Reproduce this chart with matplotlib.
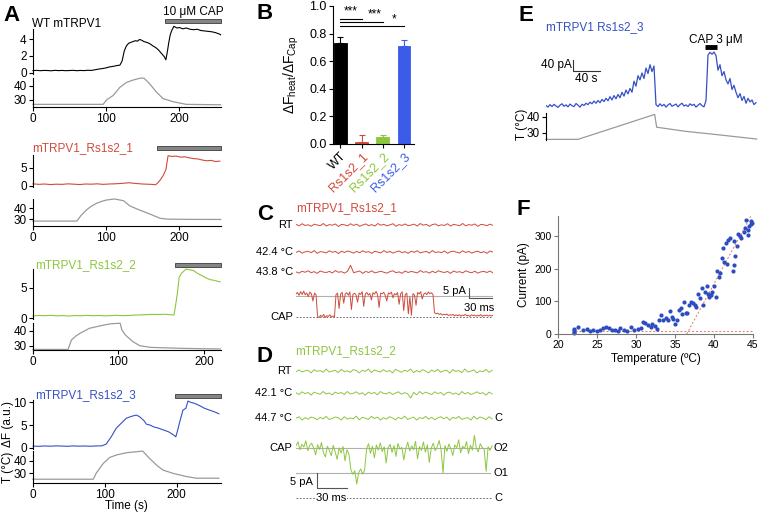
import matplotlib.pyplot as plt
import matplotlib.transforms as mtransforms
from matplotlib.patches import Rectangle
import numpy as np

plt.rcParams['font.family'] = ['Liberation Sans', 'DejaVu Sans']
plt.rcParams['mathtext.default'] = 'regular'
plt.rcParams['font.size'] = 8.5
plt.rcParams['axes.linewidth'] = 0.8
plt.rcParams['xtick.major.size'] = 3
plt.rcParams['ytick.major.size'] = 3
plt.rcParams['xtick.major.width'] = 0.8
plt.rcParams['ytick.major.width'] = 0.8
plt.rcParams['xtick.major.pad'] = 1.5
plt.rcParams['ytick.major.pad'] = 1.5

W, H = 760, 513
RED = '#d04a3c'
GREEN = '#8cc63f'
BLUE = '#3550c4'
TGRAY = '#9a9a9a'

# ---------------- data ----------------
# A: calcium imaging, dF (a.u.) and bath temperature vs time (s)
wt_t = [0, 5, 10, 15, 20, 25, 30, 35, 40, 45, 50, 55, 60, 65, 70, 75, 80, 85, 90, 95, 100, 105, 110, 115,
        119, 122, 125, 128, 131, 134, 137, 140, 143, 146, 149, 152,
        156, 160, 164, 168, 172, 176, 180,
        182, 184, 186, 188, 190, 193, 197, 201, 205, 210,
        215, 220, 225, 230, 235, 240, 245, 250, 255, 257]
wt_df = [0.28, 0.31, 0.27, 0.30, 0.29, 0.26, 0.31, 0.28, 0.30, 0.27, 0.29, 0.31, 0.27, 0.30, 0.28, 0.32,
         0.30, 0.38, 0.46, 0.52, 0.60, 0.72, 0.78, 0.88,
         0.92, 1.4, 2.6, 3.2, 3.5, 3.6, 3.7, 3.8, 3.75, 3.95, 3.85, 3.7,
         3.6, 3.45, 3.2, 3.0, 2.7, 2.3, 1.9,
         1.55, 2.5, 3.6, 4.5, 5.0, 5.5, 5.3, 5.35, 5.2, 5.3,
         5.15, 5.1, 5.15, 5.0, 4.95, 4.9, 4.85, 4.75, 4.6, 4.5]
wt_tt = [0, 96, 101, 110, 119, 128, 137, 147, 152, 160, 169, 178, 192, 210, 257]
wt_temp = [26.5, 26.5, 29.8, 33.0, 38.8, 42.3, 44.0, 45.4, 45.4, 41.2, 35.4, 30.7, 28.4, 26.5, 26.2]

rs1_t = [0, 8, 16, 24, 32, 40, 48, 56, 64, 72, 80, 88, 96, 104, 112, 120,
         126, 132, 138, 144, 150, 156, 162, 168,
         171, 174, 178, 182, 185,
         190, 196, 202, 208, 214, 220, 226, 232, 238, 244, 250, 256]
rs1_df = [0.6, 0.45, 0.55, 0.4, 0.5, 0.45, 0.6, 0.5, 0.4, 0.55, 0.5, 0.6, 0.45, 0.55, 0.6, 0.7,
          0.8, 0.9, 0.75, 0.65, 0.55, 0.5, 0.45, 0.35,
          0.9, 1.6, 2.8, 4.5, 8.4,
          8.2, 8.3, 8.0, 8.1, 7.8, 7.6, 7.5, 7.2, 7.0, 7.1, 6.8, 6.9]
rs1_tt = [0, 60, 66, 73, 80, 87, 94, 101, 112, 124, 133, 146, 160, 174, 185, 210, 257]
rs1_temp = [28.1, 28.1, 33.5, 38.4, 42.0, 44.7, 46.5, 47.8, 48.7, 47.1, 42.1, 38.4, 34.7, 30.7, 29.9, 29.7, 29.6]

rs2_t = [0, 7, 14, 21, 28, 35, 42, 49, 56, 63, 70, 77, 84, 91, 98, 105, 112, 119, 126, 133, 140, 147, 154,
         160, 165, 167, 169, 171, 174, 179, 185,
         188, 192, 196, 200, 204, 208, 212, 216, 219]
rs2_df = [0.35, 0.42, 0.38, 0.45, 0.36, 0.40, 0.33, 0.41, 0.37, 0.44, 0.38, 0.42, 0.36, 0.40, 0.45, 0.39,
          0.43, 0.48, 0.52, 0.56, 0.60, 0.58, 0.62,
          0.55, 0.50, 2.2, 4.1, 6.7, 7.4, 8.05, 7.9,
          7.8, 7.4, 7.1, 6.8, 6.5, 6.3, 6.2, 6.05, 5.95]
rs2_tt = [0, 41, 45, 50, 55, 66, 78, 90, 100, 102, 104, 108, 117, 125, 137, 175, 219]
rs2_temp = [27.5, 27.5, 33.9, 36.5, 38.4, 41.8, 43.4, 44.8, 45.2, 45.2, 40.7, 37.3, 32.7, 30.0, 28.9, 28.2, 27.8]

rs3_t = [0, 8, 16, 24, 32, 40, 48, 56, 64, 72, 80, 88, 96,
         102, 109, 116, 123, 130, 135, 139, 144, 148, 151, 155, 158, 163, 168, 175, 182, 189, 196,
         199, 201, 205, 209, 213, 216, 220, 225, 232, 239, 246, 253, 259]
rs3_df = [0.35, 0.30, 0.38, 0.33, 0.40, 0.36, 0.31, 0.39, 0.34, 0.37, 0.32, 0.38, 0.42,
          0.8, 2.4, 4.3, 5.4, 6.5, 6.8, 7.0, 7.2, 6.9, 6.5, 5.9, 5.2, 5.0, 4.6, 4.3, 3.9, 3.5, 2.8,
          2.4, 3.5, 6.0, 8.3, 8.7, 10.3, 10.0, 9.8, 9.3, 8.7, 8.3, 7.9, 7.5]
rs3_tt = [0, 84, 88, 98, 107, 116, 130, 149, 153, 160, 172, 181, 195, 214, 228, 259]
rs3_temp = [25.3, 25.3, 30.0, 37.9, 42.6, 44.5, 46.3, 47.4, 47.6, 43.2, 36.6, 32.6, 30.0, 27.4, 26.1, 26.1]

# B: heat/capsaicin response ratio
b_names = ['WT', 'Rs1s2_1', 'Rs1s2_2', 'Rs1s2_3']
b_values = [0.735, 0.018, 0.053, 0.712]
b_errors = [0.04, 0.05, 0.01, 0.04]
b_colors = ['black', RED, GREEN, '#3a5ce8']

# C: single-channel traces, mTRPV1_Rs1s2_1 (pA, 2 ms per sample for CAP)
noise_a = [0.3, -0.4, 0.6, -0.2, 0.1, -0.6, 0.4, 0.0, -0.3, 0.7, -0.5, 0.2, -0.1, 0.5, -0.7, 0.3, 0.1, -0.4,
           0.6, -0.2, 0.4, -0.6, 0.0, 0.5, -0.3, 0.2, -0.5, 0.7, -0.1, 0.3, -0.4, 0.1, 0.6, -0.6, 0.2, -0.2,
           0.5, -0.3, 0.0, 0.4, -0.5, 0.7, -0.1, 0.3, -0.6, 0.2, 0.5, -0.4, 0.1, -0.2, 0.6, -0.5, 0.3, 0.0,
           -0.3, 0.7, -0.4, 0.2, -0.1, 0.5, -0.6, 0.3, 0.1, -0.3, 0.4, -0.2]
noise_b = [-0.2, 0.5, -0.5, 0.1, 0.4, -0.3, 0.7, -0.6, 0.2, 0.0, -0.4, 0.6, -0.1, 0.3, -0.7, 0.4, -0.2, 0.5,
           0.1, -0.5, 0.3, -0.3, 0.6, -0.1, 0.2, -0.6, 0.4, 0.0, -0.4, 0.7, -0.2, 0.3, -0.5, 0.1, 0.5, -0.3,
           0.2, -0.6, 0.4, -0.1, 0.6, -0.4, 0.0, 0.3, -0.5, 0.7, -0.2, 0.1, -0.3, 0.5, -0.6, 0.2, 0.4, -0.1,
           -0.4, 0.6, -0.2, 0.3, -0.5, 0.1, 0.4, -0.3, 0.2, -0.6, 0.5, 0.0]
noise_c = [0.1, -0.5, 0.4, -0.1, 0.6, -0.3, 0.2, -0.6, 0.5, 0.0, -0.2, 0.3, -0.4, 0.7, -0.1, 0.2, -0.5, 0.4,
           3.2, -0.3, 0.1, 0.5, -0.6, 0.3, -0.2, 0.6, -0.4, 0.0, 0.4, -0.1, -0.5, 0.2, 0.6, -0.3, 0.1, -0.6,
           0.5, -0.2, 0.3, 0.0, -0.4, 0.7, -0.1, 0.2, -0.5, 0.4, -0.3, 0.6, 0.1, -0.2, 0.3, -0.6, 0.5, -0.1,
           0.2, -0.4, 0.6, 0.0, -0.3, 0.4, -0.5, 0.1, 0.3, -0.2, 0.5, -0.4]
cap_c = [10.8, 11.5, 10.2, 11.9, 10.6, 12.1, 10.4, 11.3, 9.6, 11.7, 10.9, 7.5, 11.2, 10.5,
         0.4, -0.3, 0.8, 0.1, 1.2, -0.2, 0.6, 0.3, 1.0, -0.1, 0.5, 0.2,
         10.5, 11.2, 4.0, 10.8, 11.6, 6.5, 10.9, 11.4, 10.2, 11.8, 3.5, 10.7, 11.1, 10.4, 7.0, 11.3,
         10.6, 11.9, 5.0, 10.8, 11.5, 10.3, 11.0, 8.0, 11.4, 10.7, 12.0, 10.5, 4.5, 11.2, 10.9, 11.6,
         10.1, 7.5, 11.3, 10.8, 11.7, 9.0, 11.0, 10.4, 11.5, 6.0, 10.9, 11.8, 3.0, 10.6, 11.2, 1.5,
         9.5, 0.8, 11.0, 10.3, 5.5, 11.5, 10.8, 11.9, 8.5, 10.7, 11.3, 10.5, 11.8, 10.9, 11.4, 10.6,
         2.0, 1.5, 1.8, 1.2, 1.6, 0.9, 1.3, 1.0, 1.4, 0.7, 1.1, 0.8, 1.2, 0.5, 1.0, 0.6, 1.1, 0.4,
         0.9, 0.7, 1.2, 0.5, 0.8, 0.3, 1.0, 0.6, 0.9, 0.4, 0.8, 0.5, 1.1, 0.3, 0.7, 0.6, 0.9, 0.4,
         0.8, 0.5, 0.7]

# D: single-channel traces, mTRPV1_Rs1s2_2
noise_d = [0.2, -0.4, 0.5, -0.1, 0.3, -0.6, 0.4, 0.0, -0.3, 0.6, -0.2, 0.1, -0.5, 0.4, -0.1, 0.3, -0.4, 0.6,
           -0.2, 0.0, 0.5, -0.3, 0.2, -0.6, 0.4, -0.1, 0.3, -0.5, 0.6, 0.0, -0.2, 0.4, -0.4, 0.1, 0.5, -0.3,
           0.2, -0.1, -1.6, 0.3, -0.5, 0.6, -0.2, 0.4, 0.0, -0.4, 0.5, -0.1, 0.3, -0.6, 0.2, 0.4, -0.3, 0.1,
           -0.5, 0.6, -0.2, 0.3, -0.4, 0.0, 0.5, -0.1, 0.2, -0.6, 0.4, -0.2]
cap_d = [17.5, 18.9, 16.2, 18.0, 17.1, 19.2, 15.9, 17.6, 18.4, 16.8, 14.5, 17.9, 16.3, 18.6, 15.2, 13.8,
         17.4, 16.0, 14.2, 17.7, 15.5, 13.0, 16.8, 15.1, 17.3, 12.5, 16.2, 14.8,
         9.5, 8.0, 9.2, 4.8, 8.7, 9.8, 8.1, 9.4,
         16.5, 18.2, 15.0, 17.4, 13.5, 17.8, 16.1, 18.5, 15.6, 17.2, 11.8, 16.9, 18.0, 15.3, 17.6, 14.0,
         18.3, 16.4, 17.0, 12.8, 16.6, 18.7, 15.8, 17.5, 16.2, 19.0, 13.2, 17.3, 16.0, 18.8, 15.4, 17.9,
         12.0, 16.7, 18.4, 15.9, 17.1, 19.3, 16.3, 8.5, 17.6, 15.7, 18.1, 16.5, 14.3, 17.8, 16.9, 19.5,
         15.2, 17.4, 16.6, 18.9, 14.9, 17.7, 16.1, 21.0, 16.8, 15.5, 18.2, 17.0, 16.4, 9.0, 17.2, 16.0, 17.5]

# E: whole-cell current (pA, 3 s per sample) and temperature
e_current = [2, -4, 5, -2, 6, 0, -5, 3, 8, -1, 4, -3, 7, 1, -2, 9, 3, -4, 6, 2, 10,
             5, 14, 8, 18, 10, 20, 12, 24, 16, 28, 19, 34, 22, 38, 26, 42,
             30, 50, 36, 58, 44, 64, 50,
             90, 72, 110, 95, 120, 100, 138, 118,
             150, 125, 145,
             5, -2, 8, 0, 6, -4, 4, 9, -1, 3, 7, -3, 5, 10, 0, 4, -2, 8, 2, 6, -4, 3, 9, 1, -3,
             20, 185, 195, 188, 196, 183,
             130, 150, 110, 125, 95,
             80, 100, 60, 75, 50,
             30, 45, 20, 35, 10, 28, 15, 22, 5, 12]
e_temp_t = [0, 48, 163, 166, 210, 260, 316]
e_temp = [26.0, 26.0, 41.6, 33.6, 31.0, 28.8, 26.2]

# F: current vs temperature
f_temp = [22.0, 22.0, 22.0, 22.0, 22.6, 23.2, 23.7, 24.1, 24.5, 25.0, 25.4, 25.8, 26.2, 26.5, 26.9, 27.3,
          27.7, 28.0, 28.4, 28.8, 29.4, 29.7, 30.2, 30.6, 30.9, 31.2, 31.6, 31.9, 32.1, 32.4, 32.7, 32.9,
          33.2, 33.5, 33.8, 34.1, 34.4, 34.6, 34.8, 35.0, 35.2, 35.5, 35.8, 35.9, 36.2, 36.4, 36.6, 36.8,
          37.1, 37.3, 37.5, 37.7, 37.9, 38.2, 38.4, 38.6, 38.8, 39.1, 39.2, 39.4, 39.6, 39.8, 40.0, 40.2,
          40.4, 40.6, 40.8, 41.0, 41.1, 41.3, 41.5, 41.7, 41.8, 42.1, 42.4, 42.5, 42.6, 42.7, 43.0, 43.1,
          43.3, 43.5, 43.8, 44.0, 44.1, 44.3, 44.4, 44.5, 44.7, 44.8, 44.9]
f_current = [15, 11, 7, 4, 21, 11, 14, 9, 12, 10, 13, 17, 20, 17, 12, 13,
             9, 19, 12, 9, 20, 11, 15, 17, 36, 33, 28, 22, 30, 25, 14, 43,
             58, 43, 48, 43, 70, 53, 46, 32, 44, 73, 81, 60, 99, 63,
             63, 89, 99, 94, 89, 84, 121, 111, 140, 89, 127, 147, 121, 114, 119, 129,
             147, 114, 194, 175, 188, 231, 262, 219, 277, 213, 287, 293, 193, 211, 286, 240,
             270, 305, 301, 295, 313, 325, 349, 303, 318, 329, 335, 346, 341]
fit_base_t = [22.2, 45.0]
fit_base_i = [10, 10]
fit_rise_t = [36.5, 44.7]
fit_rise_i = [0, 360]

# ---------------- figure ----------------
fig = plt.figure(figsize=(W / 100, H / 100), dpi=100)


def px_box(x0, y0, x1, y1):
    return [x0 / W, 1 - y1 / H, (x1 - x0) / W, (y1 - y0) / H]


def ftext(x, y, s, **kw):
    return fig.text(x / W, 1 - y / H, s, **kw)


for letter, (lx, ly) in zip('ABCDEF', [(3, 5), (256, 3), (257, 204), (256, 346), (518, 5), (516, 199)]):
    ftext(lx, ly, letter, fontsize=16, fontweight='bold', ha='left', va='top')

# ---- A ----
panels_a = [
    dict(title='WT mTRPV1', color='black', t=wt_t, df=wt_df, tt=wt_tt, temp=wt_temp, xmax=257.5,
         box_df=(33, 29, 221, 74), box_t=(33, 78, 221, 107), ylim_df=(-0.12, 5.18),
         ylim_t=(24.6, 45.5), ticks_df=[0, 2, 4], cap=(181, 257), cap_y=21, title_y=24),
    dict(title='mTRPV1_Rs1s2_1', color=RED, t=rs1_t, df=rs1_df, tt=rs1_tt, temp=rs1_temp, xmax=257.5,
         box_df=(33, 155, 221, 187), box_t=(33, 199, 221, 226), ylim_df=(-0.28, 8.6),
         ylim_t=(23.5, 48.7), ticks_df=[0, 5], cap=(169.5, 257), cap_y=148, title_y=148),
    dict(title='mTRPV1_Rs1s2_2', color=GREEN, t=rs2_t, df=rs2_df, tt=rs2_tt, temp=rs2_temp, xmax=220,
         box_df=(33, 269, 221, 319), box_t=(33, 323, 221, 350), ylim_df=(-0.16, 8.07),
         ylim_t=(27.1, 45.4), ticks_df=[0, 5], cap=(166, 219.5), cap_y=265, title_y=265),
    dict(title='mTRPV1_Rs1s2_3', color=BLUE, t=rs3_t, df=rs3_df, tt=rs3_tt, temp=rs3_temp, xmax=262,
         box_df=(33, 400, 221, 449), box_t=(33, 451, 221, 483), ylim_df=(-0.29, 10.53),
         ylim_t=(22.3, 47.7), ticks_df=[0, 5, 10], cap=(198, 261.8), cap_y=396, title_y=395),
]
for p in panels_a:
    ax1 = fig.add_axes(px_box(*p['box_df']))
    ax1.plot(p['t'], p['df'], color=p['color'], lw=0.8, clip_on=False)
    ax1.set_xlim(0, p['xmax'])
    ax1.set_ylim(*p['ylim_df'])
    ax1.set_yticks(p['ticks_df'])
    ax1.set_xticks([])
    for s in ['top', 'right', 'bottom']:
        ax1.spines[s].set_visible(False)
    ax1.patch.set_alpha(0)

    ax2 = fig.add_axes(px_box(*p['box_t']))
    ax2.plot(p['tt'], p['temp'], color=TGRAY, lw=0.9, clip_on=False)
    ax2.set_xlim(0, p['xmax'])
    ax2.set_ylim(*p['ylim_t'])
    ax2.set_yticks([30, 40])
    ax2.set_xticks([0, 100, 200])
    for s in ['top', 'right']:
        ax2.spines[s].set_visible(False)
    ax2.patch.set_alpha(0)

    trans = mtransforms.blended_transform_factory(ax1.transData, fig.transFigure)
    c0, c1 = p['cap']
    yb = 1 - (p['cap_y'] + 1.8) / H
    ax1.add_patch(Rectangle((c0, yb), c1 - c0, 3.6 / H, transform=trans, fc='#858585', ec='#3a3a3a',
                            lw=0.6, clip_on=False))
    ftext(32 if p['color'] in ('black', RED) else 35, p['title_y'], p['title'], color=p['color'],
          fontsize=8.5, ha='left', va='center')

ftext(193, 12, '10 μM CAP', fontsize=8.5, ha='center', va='center')
ftext(8, 424, 'ΔF (a.u.)', rotation=90, fontsize=8.5, ha='center', va='center')
ftext(8, 467, 'T (°C)', rotation=90, fontsize=8.5, ha='center', va='center')
ftext(126, 506, 'Time (s)', fontsize=8.5, ha='center', va='center')

# ---- B ----
axb = fig.add_axes(px_box(333, 6, 414, 144))
xb = np.arange(len(b_names))
axb.bar(xb, b_values, width=0.6, color=b_colors, edgecolor=b_colors, lw=0.6)
for i in range(len(b_names)):
    axb.errorbar(xb[i], b_values[i], yerr=[[0], [b_errors[i]]], fmt='none', ecolor=b_colors[i],
                 elinewidth=0.8, capsize=2.5, capthick=0.8)
axb.set_xlim(-0.35, 3.47)
axb.set_ylim(0, 1.0)
axb.set_yticks(np.arange(0, 1.01, 0.2))
axb.set_yticklabels(['%.1f' % v for v in np.arange(0, 1.01, 0.2)], fontsize=9)
axb.set_xticks(xb)
axb.set_xticklabels(b_names, rotation=45, ha='right', rotation_mode='anchor', fontsize=9)
for lab, c in zip(axb.get_xticklabels(), b_colors):
    lab.set_color(c)
for s in ['top', 'right']:
    axb.spines[s].set_visible(False)
axb.set_ylabel(r'$\Delta$F$_{heat}$/$\Delta$F$_{Cap}$', fontsize=10)
axb.yaxis.set_label_coords(-0.40, 0.5)
for (x1, yl, sx, sy, stars) in [(1, 0.905, 0.5, 0.915, '***'), (2, 0.887, 1.6, 0.893, '***'),
                                (3, 0.855, 2.55, 0.86, '*')]:
    axb.plot([0, x1], [yl, yl], color='black', lw=0.8, clip_on=False)
    axb.text(sx, sy, stars, ha='center', va='bottom', fontsize=8.5)

# ---- C ----
axc = fig.add_axes(px_box(296, 205, 493, 322))
axc.set_xlim(0, 256)
axc.set_ylim(-2.35, 52.6)
axc.axis('off')
c_levels = {'RT': 43.2, '42.4 °C': 30.5, '43.8 °C': 21.1}
for (lab, lev), nz in zip(c_levels.items(), [noise_a, noise_b, noise_c]):
    xs = np.linspace(0, 256, len(nz))
    axc.plot(xs, lev + np.array(nz), color=RED, lw=0.7)
    axc.text(-4, lev, lab, ha='right', va='center', fontsize=8)
xc = np.arange(len(cap_c)) * 2.0
axc.plot([0, 256], [10, 10], color='#b0b0b0', lw=0.8)
axc.plot([0, 256], [0, 0], color='#555555', lw=0.6, ls=(0, (2, 2)))
axc.plot(xc, cap_c, color=RED, lw=0.7)
axc.text(-4, 0, 'CAP', ha='right', va='center', fontsize=8)
axc.plot([224.7, 224.7, 254.7], [13.6, 8.7, 8.7], color='#555555', lw=0.8)
axc.text(221, 12.3, '5 pA', ha='right', va='center', fontsize=8)
axc.text(238, 4.2, '30 ms', ha='center', va='center', fontsize=8)
ftext(296, 208, 'mTRPV1_Rs1s2_1', color=RED, fontsize=8.5, ha='left', va='center')

# ---- D ----
axd = fig.add_axes(px_box(296, 345, 493, 505))
axd.set_xlim(0, 201)
axd.set_ylim(-2.2, 51.1)
axd.axis('off')
d_levels = {'RT': 42.4, '42.1 °C': 35.0, '44.7 °C': 26.7}
for (lab, lev), nz in zip(d_levels.items(), [noise_a[::-1], noise_d, noise_b[::-1]]):
    xs = np.linspace(0, 200, len(nz))
    axd.plot(xs, lev + np.array(nz), color=GREEN, lw=0.7)
    axd.text(-4, lev, lab, ha='right', va='center', fontsize=8)
axd.text(202, 26.7, 'C', ha='left', va='center', fontsize=8)
axd.plot([0, 198], [16.67, 16.67], color='#b0b0b0', lw=0.8)
axd.plot([0, 198], [8.33, 8.33], color='#b0b0b0', lw=0.8)
axd.plot([0, 200], [0, 0], color='#555555', lw=0.6, ls=(0, (2, 2)))
xd = np.arange(len(cap_d)) * 2.0
axd.plot(xd, cap_d, color=GREEN, lw=0.7)
axd.text(-4, 16.67, 'CAP', ha='right', va='center', fontsize=8)
for lab, lev in [('O2', 16.67), ('O1', 8.33), ('C', 0)]:
    axd.text(202, lev, lab, ha='left', va='center', fontsize=8)
axd.plot([21.7, 21.7, 51.7], [8.3, 3.3, 3.3], color='#555555', lw=0.8)
axd.text(17.3, 5.5, '5 pA', ha='right', va='center', fontsize=8)
axd.text(36, 0.2, '30 ms', ha='center', va='center', fontsize=8,
         bbox=dict(fc='white', ec='none', pad=0.5))
ftext(295, 351, 'mTRPV1_Rs1s2_2', color=GREEN, fontsize=8.5, ha='left', va='center')

# ---- E ----
axe = fig.add_axes(px_box(546, 30, 757, 110))
axe.set_xlim(0, 316.5)
axe.set_ylim(-14.5, 276)
axe.axis('off')
xe = np.arange(len(e_current)) * 3.0
axe.plot(xe, e_current, color=BLUE, lw=0.9)
axe.plot([40.5, 40.5, 80.5], [167, 127, 127], color='#333333', lw=0.8)
axe.text(39, 150, '40 pA', ha='right', va='center', fontsize=8.5)
axe.text(60.5, 98, '40 s', ha='center', va='center', fontsize=8.5)
axe.plot([238, 256], [215, 215], color='black', lw=3.5, solid_capstyle='butt')
axe.text(255, 238, 'CAP 3 μM', ha='center', va='center', fontsize=8.5)
ftext(546, 27, 'mTRPV1 Rs1s2_3', color=BLUE, fontsize=8.5, ha='left', va='center')

axet = fig.add_axes(px_box(546, 113, 757, 140))
axet.plot(e_temp_t, e_temp, color=TGRAY, lw=0.9, clip_on=False)
axet.set_xlim(0, 316.5)
axet.set_ylim(25.6, 42.5)
axet.set_yticks([30, 40])
axet.set_xticks([])
for s in ['top', 'right', 'bottom']:
    axet.spines[s].set_visible(False)
axet.patch.set_alpha(0)
ftext(522, 124, 'T (°C)', rotation=90, fontsize=8.5, ha='center', va='center')

# ---- F ----
axf = fig.add_axes(px_box(558, 216, 753, 334))
axf.plot(fit_base_t, fit_base_i, color='#e07565', lw=0.7, ls=(0, (2, 2)))
axf.plot(fit_rise_t, fit_rise_i, color='#e07565', lw=0.7, ls=(0, (2, 2)), clip_on=False)
axf.plot(f_temp, f_current, 'o', ms=3, color='#2d4cc0', mec='none', clip_on=False)
axf.set_xlim(20, 45)
axf.set_ylim(0, 361)
axf.set_xticks([20, 25, 30, 35, 40, 45])
axf.set_yticks([0, 100, 200, 300])
axf.tick_params(labelsize=7.5, color='#777777')
for s in ['top', 'right']:
    axf.spines[s].set_visible(False)
for s in ['left', 'bottom']:
    axf.spines[s].set_color('#777777')
axf.patch.set_alpha(0)
axf.set_xlabel('Temperature (ºC)', fontsize=8.5, labelpad=2)
axf.set_ylabel('Current (pA)', fontsize=8.5, labelpad=3)

fig.savefig('out.png', dpi=100)
